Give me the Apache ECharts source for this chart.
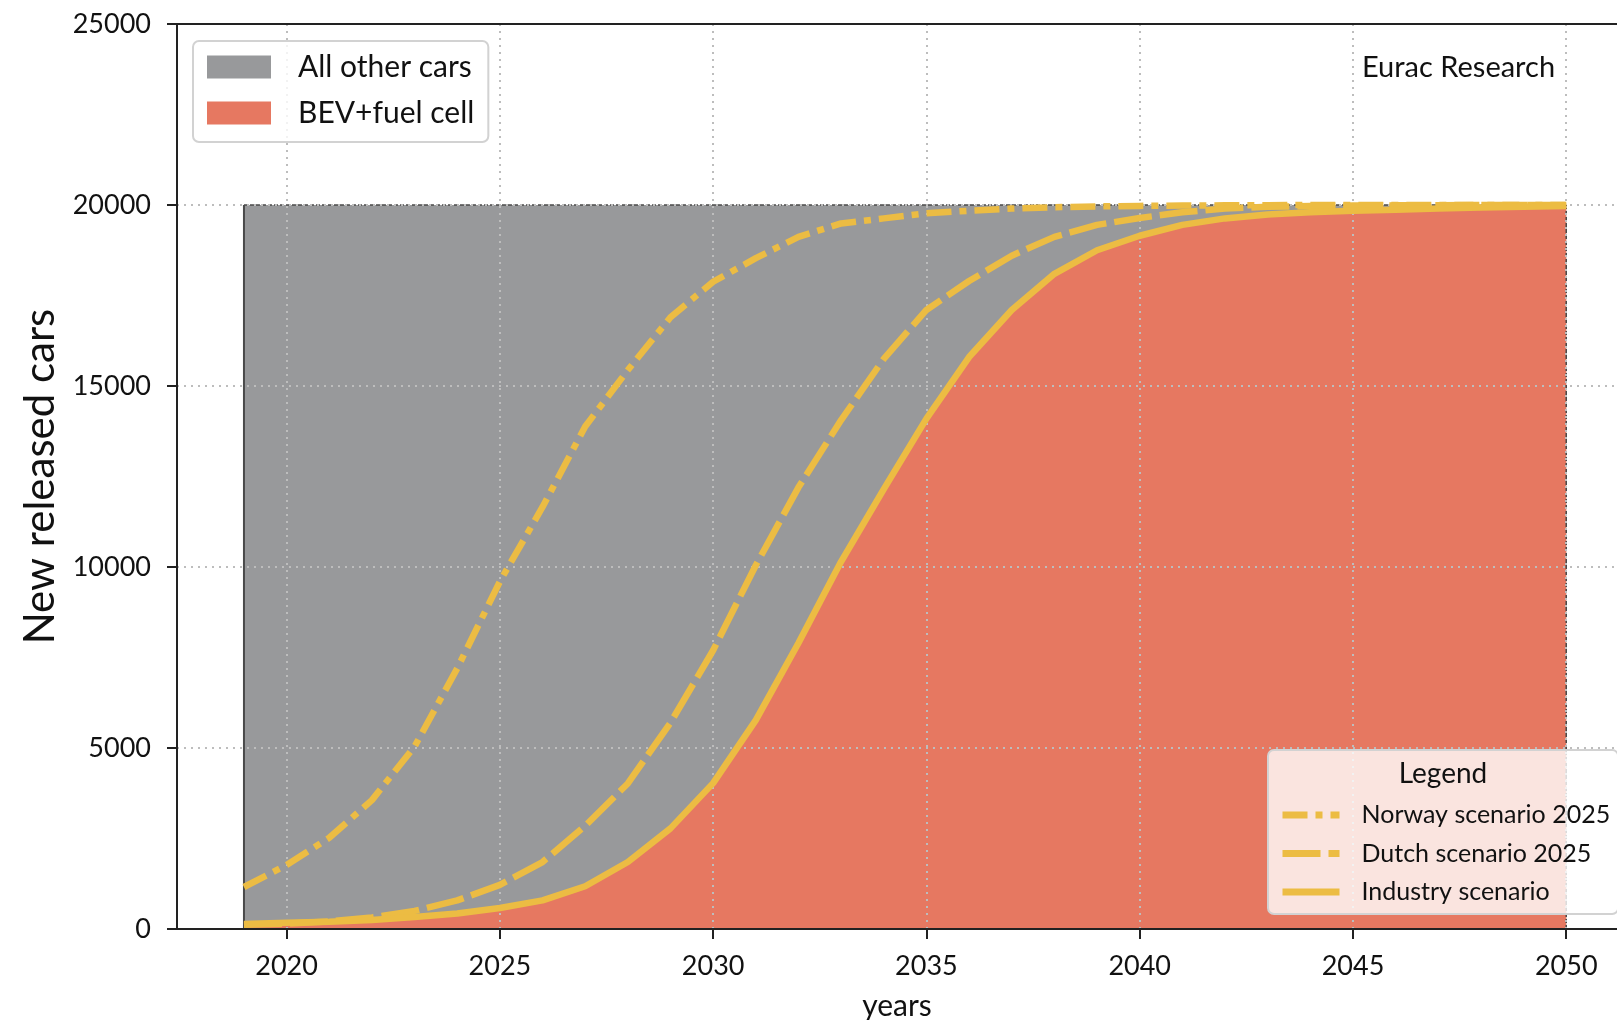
<!DOCTYPE html>
<html>
<head>
<meta charset="utf-8">
<title>New released cars</title>
<script src="https://cdn.jsdelivr.net/npm/echarts@6/dist/echarts.min.js"></script>
<style>
  html, body { margin: 0; padding: 0; background: #ffffff; }
  #chart { width: 1617px; height: 1020px; }
</style>
</head>
<body>
<div id="chart"></div>
<script>
// Yearly new releases, 2019-2050
const years = [2019, 2020, 2021, 2022, 2023, 2024, 2025, 2026, 2027, 2028, 2029,
  2030, 2031, 2032, 2033, 2034, 2035, 2036, 2037, 2038, 2039,
  2040, 2041, 2042, 2043, 2044, 2045, 2046, 2047, 2048, 2049, 2050];

// total new cars per year
const totalCars = [20000, 20000, 20000, 20000, 20000, 20000, 20000, 20000, 20000, 20000, 20000,
  20000, 20000, 20000, 20000, 20000, 20000, 20000, 20000, 20000, 20000,
  20000, 20000, 20000, 20000, 20000, 20000, 20000, 20000, 20000, 20000, 20000];

// BEV + fuel cell under the industry scenario
const industryScenario = [140, 170, 200, 250, 330, 430, 580, 790, 1180, 1850, 2780,
  4030, 5770, 7900, 10150, 12150, 14100, 15800, 17100, 18100, 18750,
  19150, 19450, 19630, 19740, 19800, 19840, 19870, 19900, 19930, 19950, 19970];

const dutchScenario2025 = [120, 150, 210, 320, 500, 790, 1220, 1850, 2850, 4020, 5700,
  7700, 10050, 12200, 14060, 15750, 17100, 17900, 18600, 19120, 19450,
  19640, 19800, 19900, 19950, 19970, 19985, 19990, 19995, 20000, 20000, 20000];

const norwayScenario2025 = [1160, 1770, 2520, 3560, 5040, 7200, 9600, 11660, 13880, 15440, 16900,
  17880, 18530, 19120, 19490, 19630, 19770, 19840, 19900, 19940, 19960,
  19975, 19985, 19990, 19995, 20000, 20000, 20000, 20000, 20000, 20000, 20000];

const xTickYears = [2020, 2025, 2030, 2035, 2040, 2045, 2050];

const GRAY = '#98999b';
const ORANGE = '#e67861';
const YELLOW = '#ecbc43';
const EDGE = '#4a4a4a';
const FONT = 'Lato, "Open Sans", sans-serif';

// x range: the plot runs past the right edge of the canvas
const X_MIN = 2017.43;
const X_MAX = 2051.19;

const toPairs = (vals) => years.map((y, i) => [y, vals[i]]);
const first = 0, last = years.length - 1;
const plain = (v) => String(Math.round(v));

const NORWAY_DASH = [25, 8, 7, 8];
const DUTCH_DASH = [38, 8];

const chart = echarts.init(document.getElementById('chart'), null, { renderer: 'canvas' });

const gridLine = { show: true, lineStyle: { color: '#bdbdbd', width: 2, type: [2, 5] } };

chart.setOption({
  animation: false,
  backgroundColor: '#ffffff',
  textStyle: { fontFamily: FONT },
  grid: { left: 177, right: 0, top: 24, bottom: 91, containLabel: false, outerBoundsMode: 'none' },
  xAxis: [
    {
      type: 'value',
      min: X_MIN, max: X_MAX,
      z: 2,
      name: 'years',
      nameLocation: 'middle',
      nameGap: 62,
      nameTextStyle: { fontFamily: FONT, fontSize: 30, color: '#111' },
      axisLine: { show: true, onZero: false, lineStyle: { color: '#222', width: 2 } },
      axisTick: { show: true, length: 10, lineStyle: { color: '#222', width: 2 }, customValues: xTickYears },
      axisLabel: { fontFamily: FONT, fontSize: 27, color: '#111', margin: 24, customValues: xTickYears, formatter: plain },
      splitLine: gridLine
    },
    {
      // top spine
      type: 'value',
      position: 'top',
      min: X_MIN, max: X_MAX,
      z: 2,
      axisLine: { show: true, onZero: false, lineStyle: { color: '#222', width: 2 } },
      axisTick: { show: false },
      axisLabel: { show: false },
      splitLine: { show: false }
    }
  ],
  yAxis: {
    type: 'value',
    min: 0, max: 25000, interval: 5000,
    z: 2,
    name: 'New released cars',
    nameLocation: 'middle',
    nameRotate: 90,
    nameGap: 116,
    nameTextStyle: { fontFamily: FONT, fontSize: 42, color: '#111' },
    axisLine: { show: true, lineStyle: { color: '#222', width: 2 } },
    axisTick: { show: true, length: 10, lineStyle: { color: '#222', width: 2 } },
    axisLabel: { fontFamily: FONT, fontSize: 27, color: '#111', margin: 26, formatter: plain },
    splitLine: gridLine
  },
  legend: [
    {
      data: ['All other cars', 'BEV+fuel cell'],
      orient: 'vertical',
      left: 193, top: 41,
      z: 5,
      icon: 'rect',
      itemWidth: 64, itemHeight: 23, itemGap: 16,
      padding: [11, 14, 14, 14],
      backgroundColor: 'rgba(255,255,255,0.8)',
      borderColor: '#d2d2d2', borderWidth: 2, borderRadius: 6,
      itemStyle: { borderWidth: 0 },
      selectedMode: false,
      textStyle: { fontFamily: FONT, fontSize: 30, color: '#111', lineHeight: 30, padding: [0, 0, 0, 22] }
    },
    {
      data: [
        { name: 'Norway scenario 2025', lineStyle: { type: NORWAY_DASH } },
        { name: 'Dutch scenario 2025', lineStyle: { type: DUTCH_DASH } },
        { name: 'Industry scenario', lineStyle: { type: 'solid' } }
      ],
      orient: 'vertical',
      left: 1268, top: 750,
      z: 5,
      itemWidth: 57, itemHeight: 26, itemGap: 8.5,
      padding: [50, 8, 7, 11],
      backgroundColor: 'rgba(255,255,255,0.8)',
      borderColor: '#d2d2d2', borderWidth: 2, borderRadius: 6,
      itemStyle: { opacity: 0 },
      lineStyle: { width: 7, color: YELLOW, cap: 'butt' },
      selectedMode: false,
      textStyle: { fontFamily: FONT, fontSize: 25, color: '#111', lineHeight: 30, padding: [0, 0, 0, 17] }
    }
  ],
  graphic: [
    {
      type: 'text', z: 100, x: 1443, y: 774,
      style: { text: 'Legend', font: '28px ' + FONT, fill: '#111', align: 'center', verticalAlign: 'middle' }
    },
    {
      type: 'text', z: 100, x: 1362, y: 68,
      style: { text: 'Eurac Research', font: '29px ' + FONT, fill: '#111', align: 'left', verticalAlign: 'middle' }
    }
  ],
  series: [
    {
      name: 'All other cars',
      type: 'line',
      data: toPairs(totalCars),
      symbol: 'none', showSymbol: false, silent: true,
      z: 1,
      itemStyle: { color: GRAY },
      lineStyle: { color: EDGE, width: 1.5, type: [4, 2] },
      areaStyle: { color: GRAY, opacity: 1 }
    },
    {
      name: 'BEV+fuel cell',
      type: 'line',
      data: toPairs(industryScenario),
      symbol: 'none', showSymbol: false, silent: true,
      z: 1.1,
      itemStyle: { color: ORANGE },
      lineStyle: { width: 0, color: ORANGE },
      areaStyle: { color: ORANGE, opacity: 1 }
    },
    {
      name: 'left edge',
      type: 'line',
      data: [[years[first], 0], [years[first], totalCars[first]]],
      symbol: 'none', silent: true, z: 1.2,
      lineStyle: { color: EDGE, width: 2 }
    },
    {
      name: 'right edge',
      type: 'line',
      data: [[years[last], 0], [years[last], totalCars[last]]],
      symbol: 'none', silent: true, z: 1.2,
      lineStyle: { color: EDGE, width: 1.5, type: [4, 2] }
    },
    {
      name: 'Norway scenario 2025',
      type: 'line',
      data: toPairs(norwayScenario2025),
      symbol: 'none', showSymbol: false, silent: true,
      z: 3,
      itemStyle: { color: YELLOW },
      lineStyle: { color: YELLOW, width: 6.5, type: NORWAY_DASH, cap: 'butt' }
    },
    {
      name: 'Dutch scenario 2025',
      type: 'line',
      data: toPairs(dutchScenario2025),
      symbol: 'none', showSymbol: false, silent: true,
      z: 3,
      itemStyle: { color: YELLOW },
      lineStyle: { color: YELLOW, width: 6.5, type: DUTCH_DASH, cap: 'butt' }
    },
    {
      name: 'Industry scenario',
      type: 'line',
      data: toPairs(industryScenario),
      symbol: 'none', showSymbol: false, silent: true,
      z: 3,
      itemStyle: { color: YELLOW },
      lineStyle: { color: YELLOW, width: 6.5 }
    }
  ]
});
</script>
</body>
</html>
